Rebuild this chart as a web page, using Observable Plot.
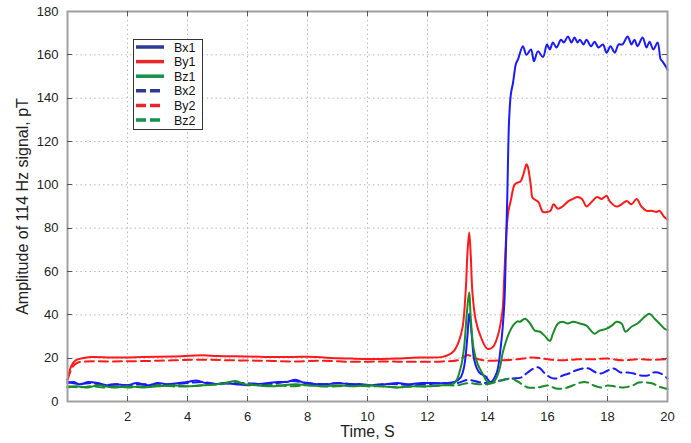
<!DOCTYPE html>
<html>
<head>
<meta charset="utf-8">
<script src="https://cdn.jsdelivr.net/npm/d3@7"></script>
<script src="https://cdn.jsdelivr.net/npm/@observablehq/plot@0.6"></script>
<style>
  html, body { margin: 0; padding: 0; background: #fff; }
  #wrap { position: relative; width: 691px; height: 443px; font-family: "Liberation Sans", Arial, sans-serif; }
  #legend { position: absolute; left: 0; top: 0; }
</style>
</head>
<body>
<div id="wrap"></div>
<script>
const xTicks = [2,4,6,8,10,12,14,16,18,20];
const yTicks = [0,20,40,60,80,100,120,140,160,180];
const seriesNames = ["Bx1","By1","Bz1","Bx2","By2","Bz2"];
const seriesColors = ["#1a1aff","#ff1a1a","#1a8c2a","#1a1aff","#ff1a1a","#1a8c2a"];
const legendColors = ["#2e3a96","#e8262a","#13934a","#2e3a96","#e8262a","#13934a"];

const tBx1 = [0,0.2,0.4,0.7,1.0,1.3,1.6,2.0,2.3,2.7,3.0,3.3,3.7,4.0,4.3,4.6,4.9,5.2,5.6,6.0,6.3,6.7,7.0,7.3,7.6,7.9,8.3,8.7,9.0,9.4,9.8,10.2,10.6,11.0,11.4,11.8,12.2,12.6,12.9,13.1,13.22,13.33,13.39,13.48,13.56,13.72,13.94,14.1,14.3,14.44,14.56,14.61,14.66,14.72,14.78,14.85,14.95,15.02,15.18,15.3,15.45,15.55,15.68,15.85,15.98,16.08,16.18,16.3,16.45,16.55,16.68,16.8,16.9,17.0,17.08,17.2,17.3,17.45,17.57,17.7,17.85,17.97,18.1,18.24,18.37,18.5,18.67,18.8,18.9,19.0,19.17,19.3,19.4,19.53,19.67,19.77,19.83,19.97,20];
const vBx1 = [8.5,9,8,9,8.5,7.5,8,7.5,8.5,7.5,8.5,8,8.5,9,9.7,8.5,8,8.5,8,7.5,8,8.5,9,9,10,8.5,8,8,8.5,8,8,7.5,8,8.5,8,8.5,8.5,8.5,9,11,16,30,40.6,30,19,13.5,11.5,9,13,25,45,68,95,130,142,147,156,158,164,160,162.5,157,161.6,159,164.8,162.5,165.7,163.4,167,165.7,168.5,165.7,168,165.7,167,164.8,167,164,166,163.4,164.8,161,164,161,164.8,164.8,168.5,164.8,167,164,168,163.4,166,162.5,165.7,158,157,154,153];

const tBy1 = [0,0.05,0.1,0.2,0.3,0.5,0.8,1.5,2.5,3.5,4.5,5.0,6.0,7.0,8.0,9.0,9.5,10.5,11.0,11.5,12.0,12.5,12.7,12.89,13.05,13.17,13.28,13.33,13.39,13.44,13.5,13.61,13.78,14.0,14.17,14.33,14.5,14.55,14.6,14.65,14.7,14.78,14.9,15.0,15.1,15.2,15.3,15.35,15.45,15.5,15.6,15.7,15.85,16.0,16.1,16.2,16.35,16.5,16.7,16.85,17.0,17.15,17.3,17.5,17.65,17.8,17.97,18.07,18.3,18.47,18.64,18.8,18.97,19.13,19.3,19.47,19.63,19.73,19.9,20];
const vBy1 = [10,13,15.5,18,19.2,20,20.5,20.3,20.5,20.8,21.3,21,20.8,20.5,20.6,20,19.8,19.6,19.8,20.2,20.3,20.6,21.5,23.5,28,34.3,52.7,68,78,68,49.8,37.4,29.7,24.3,25,29.7,42,55,70,82,88,93,100,101,101.5,105,109.5,108,99,94,93,92,87.5,87.5,88,91,89,90,92.5,93.5,94.4,93.5,90,92.5,94.4,93.5,95,92.5,90,91,92.5,91,93.5,90,88,88,87.5,88,85,84];

const tBz1 = [0,0.3,0.7,1.0,1.5,2.0,2.5,3.0,3.5,4.0,4.5,5.0,5.3,5.6,5.9,6.3,6.8,7.2,7.6,8.0,8.5,9.0,9.5,10.0,10.5,11.0,11.5,12.0,12.5,12.9,13.11,13.22,13.31,13.39,13.44,13.53,13.67,13.83,14.0,14.15,14.3,14.42,14.5,14.6,14.7,14.85,15.0,15.08,15.25,15.42,15.58,15.75,15.9,16.08,16.18,16.35,16.5,16.68,16.85,17.08,17.3,17.48,17.57,17.74,17.97,18.14,18.3,18.47,18.6,18.8,19.0,19.17,19.4,19.57,19.73,19.9,20];
const vBz1 = [6.5,7,6.5,7.5,6.5,7,6.5,7,7.5,7,7.5,8,8.5,9.5,8,7.5,7,7.5,8,7.5,7,7.5,7,7.5,7,6.5,7,7,7.5,8.5,15.8,25,40.6,50.4,39,25,17.4,13,9,8.5,11,16,22,27,31,35,37,36.8,38.2,36,32.7,32.2,30.4,28,31.3,36,36.8,36,36.8,36,35,32.2,31.3,32.7,33.6,35,36.8,36,32.2,34.5,36,38.2,40.5,38.2,36,33.6,33];

const tBx2 = [0,0.4,0.8,1.2,1.6,2.0,2.5,3.0,3.5,4.0,4.5,5.0,5.5,6.0,6.5,7.0,7.5,8.0,8.5,9.0,9.5,10.0,10.5,11.0,11.5,12.0,12.5,13.0,13.35,13.7,14.0,14.44,14.78,15.11,15.34,15.54,15.71,15.88,16.11,16.28,16.51,16.71,16.94,17.18,17.38,17.61,17.78,18.01,18.21,18.44,18.68,18.88,19.11,19.34,19.54,19.78,20];
const vBx2 = [9,8,8.5,7.5,8,7.5,8,7.5,8,8.5,9,8,8.5,8.5,8,8.5,9.5,8.5,8,8.5,8,7.5,8,8,7.5,8,8.5,8.5,10,9,8.5,9.7,10.6,11,13.4,15.2,15.7,13.4,11,10.6,12,12.9,14.3,15.2,15.2,13.4,12.9,14.3,15.2,13.4,13.4,12.9,12,12,13.4,12.9,10.6];

const tBy2 = [0,0.1,0.2,0.35,0.6,1.5,3.0,4.5,5.5,6.5,7.5,8.5,9.5,10.5,11.5,12.5,13.0,13.2,13.35,13.5,13.7,14.0,14.5,15.0,15.5,16.0,16.5,17.0,17.5,18.0,18.5,19.0,19.5,20];
const vBy2 = [10,14,16.5,18,18.5,18.5,18.8,19.3,19,18.8,18.5,18.8,18.3,18.5,18.3,18.5,19,20.5,21.5,20.5,19.5,18.8,19,19.5,20.3,19.5,19,19.5,19.5,19.8,19,19.5,19.3,19.5];

const tBz2 = [0,0.4,0.8,1.2,1.6,2.0,2.5,3.0,3.5,4.0,4.5,5.0,5.5,6.0,6.5,7.0,7.5,8.0,8.5,9.0,9.5,10.0,10.5,11.0,11.5,12.0,12.5,13.0,13.35,13.7,14.0,14.44,14.78,14.95,15.11,15.34,15.68,16.01,16.28,16.54,16.84,17.11,17.34,17.54,17.78,18.01,18.28,18.54,18.84,19.04,19.28,19.51,19.71,19.94,20];
const vBz2 = [7,6.5,7,6.5,7,6.5,7,7.5,7,7,7.5,8,9,8,7.5,7.5,7,7.5,7,7,7.5,7,7,6.5,7,7,7.5,7.5,8.5,8,8,9.7,10.6,9.7,8.3,6.5,6.5,7.4,6,6,7.4,8.8,8.8,7.4,6.5,7.4,6.9,6.5,7.4,8.8,8.8,8.3,6.9,6,5.8];

const times = [tBx1, tBy1, tBz1, tBx2, tBy2, tBz2];
const values = [vBx1, vBy1, vBz1, vBx2, vBy2, vBz2];

const rows = [];
seriesNames.forEach((name, i) => {
  times[i].forEach((t, j) => rows.push({series: name, t, v: values[i][j]}));
});

const font = '"Liberation Sans", Arial, sans-serif';
const lineMarks = seriesNames.map((name, i) =>
  Plot.line(rows.filter(d => d.series === name), {
    x: "t", y: "v",
    stroke: seriesColors[i],
    strokeWidth: 2,
    strokeDasharray: i >= 3 ? "9,5" : null,
    curve: "catmull-rom"
  })
);
const order = [4, 3, 5, 1, 0, 2];

const chart = Plot.plot({
  width: 691,
  height: 443,
  marginLeft: 67,
  marginRight: 24,
  marginTop: 11,
  marginBottom: 42,
  style: {fontFamily: font, fontSize: "13px", color: "#222", background: "#fff"},
  x: {domain: [0, 20]},
  y: {domain: [0, 180]},
  marks: [
    Plot.gridX(xTicks.slice(0, -1), {stroke: "#b8b8b8", strokeOpacity: 1, strokeDasharray: "1.5,3"}),
    Plot.gridY(yTicks.slice(1, -1), {stroke: "#b8b8b8", strokeOpacity: 1, strokeDasharray: "1.5,3"}),
    ...order.map(i => lineMarks[i]),
    Plot.frame({stroke: "#a0a0a0", strokeWidth: 2}),
    Plot.axisX(xTicks, {anchor: "bottom", tickSize: 0, tickPadding: 10, fontSize: 13, label: null}),
    Plot.axisY(yTicks, {anchor: "left", tickSize: 0, tickPadding: 9, fontSize: 13, label: null}),
    Plot.text(["Time, S"], {frameAnchor: "bottom", lineAnchor: "top", textAnchor: "middle", dy: 24, fontSize: 16, fill: "#222"}),
    Plot.text(["Amplitude of 114 Hz signal, pT"], {frameAnchor: "left", textAnchor: "middle", lineAnchor: "middle", rotate: -90, dx: -45, fontSize: 16, fill: "#222"})
  ]
});

const wrap = document.getElementById("wrap");
wrap.appendChild(chart);

// inward tick marks on all four sides, placed with the chart's own scales
const ns = "http://www.w3.org/2000/svg";
const sx = chart.scale("x"), sy = chart.scale("y");
const x0 = sx.apply(0), x1 = sx.apply(20), y0 = sy.apply(0), y1 = sy.apply(180);
const tickG = document.createElementNS(ns, "g");
tickG.setAttribute("stroke", "#555");
tickG.setAttribute("stroke-width", 1);
function addLine(a, b, c, d) {
  const l = document.createElementNS(ns, "line");
  l.setAttribute("x1", a); l.setAttribute("y1", b); l.setAttribute("x2", c); l.setAttribute("y2", d);
  tickG.appendChild(l);
}
xTicks.slice(0, -1).forEach(v => {
  const x = Math.round(sx.apply(v)) + 0.5;
  addLine(x, y0, x, y0 - 5);
  addLine(x, y1, x, y1 + 5);
});
yTicks.slice(1, -1).forEach(v => {
  const y = Math.round(sy.apply(v)) + 0.5;
  addLine(x0, y, x0 + 5, y);
  addLine(x1, y, x1 - 5, y);
});
chart.appendChild(tickG);

// Legend (overlay inside the plot area)
const leg = document.createElementNS(ns, "svg");
leg.setAttribute("id", "legend");
leg.setAttribute("width", 691);
leg.setAttribute("height", 443);
leg.style.pointerEvents = "none";
const box = document.createElementNS(ns, "rect");
box.setAttribute("x", 133.5); box.setAttribute("y", 39.5);
box.setAttribute("width", 69); box.setAttribute("height", 90);
box.setAttribute("fill", "#fff"); box.setAttribute("stroke", "#333"); box.setAttribute("stroke-width", 1);
leg.appendChild(box);
seriesNames.forEach((name, i) => {
  const y = 47 + i * 14.6;
  const ln = document.createElementNS(ns, "line");
  ln.setAttribute("x1", 136); ln.setAttribute("x2", 164);
  ln.setAttribute("y1", y); ln.setAttribute("y2", y);
  ln.setAttribute("stroke", legendColors[i]);
  ln.setAttribute("stroke-width", 3.5);
  if (i >= 3) ln.setAttribute("stroke-dasharray", "10,4");
  leg.appendChild(ln);
  const tx = document.createElementNS(ns, "text");
  tx.setAttribute("x", 174); tx.setAttribute("y", y + 4.5);
  tx.setAttribute("font-family", font); tx.setAttribute("font-size", 12.5);
  tx.setAttribute("fill", "#111");
  tx.textContent = name;
  leg.appendChild(tx);
});
wrap.appendChild(leg);
</script>
</body>
</html>
